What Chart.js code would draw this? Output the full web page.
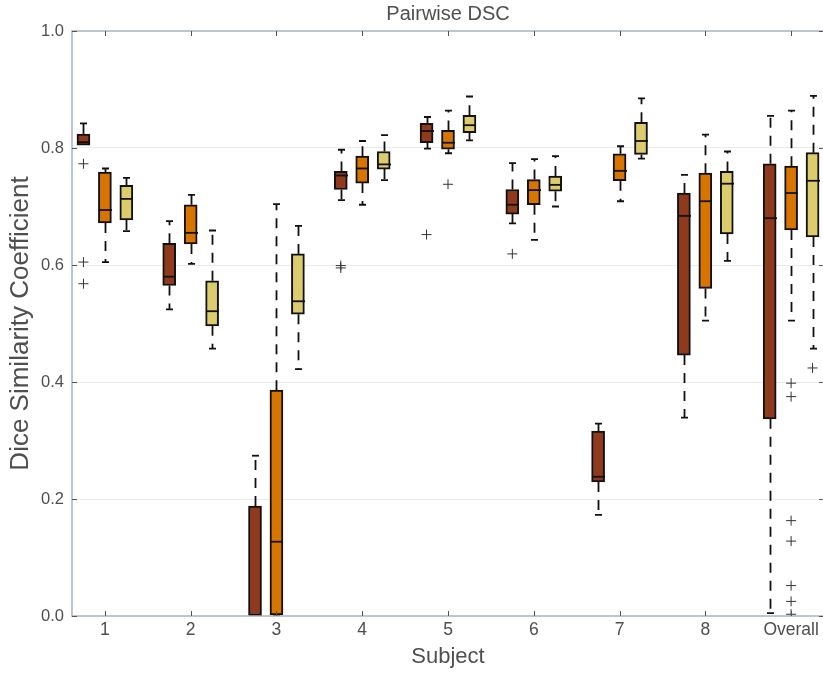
<!DOCTYPE html>
<html>
<head>
<meta charset="utf-8">
<script src="https://cdn.jsdelivr.net/npm/chart.js@4.4.1/dist/chart.umd.min.js"></script>
<style>
  html, body { margin: 0; padding: 0; background: #fff; overflow: hidden; }
  canvas { display: block; }
</style>
</head>
<body>
<canvas id="dsc" width="830" height="673"></canvas>
<script>
// subjects on the x axis
const subjects = ['1', '2', '3', '4', '5', '6', '7', '8', 'Overall'];
const yTicks = [0, 0.2, 0.4, 0.6, 0.8, 1.0];

// five number summaries per subject: [low whisker, q1, median, q3, high whisker]
const boxDark = [
  [0.805, 0.805, 0.810, 0.824, 0.842],
  [0.524, 0.565, 0.580, 0.637, 0.675],
  [0.000, 0.000, 0.000, 0.188, 0.274],
  [0.711, 0.729, 0.753, 0.760, 0.797],
  [0.799, 0.809, 0.829, 0.842, 0.853],
  [0.671, 0.687, 0.703, 0.729, 0.774],
  [0.173, 0.229, 0.238, 0.316, 0.329],
  [0.339, 0.446, 0.684, 0.723, 0.754],
  [0.005, 0.337, 0.680, 0.773, 0.855]
];
const boxOrange = [
  [0.605, 0.672, 0.694, 0.759, 0.765],
  [0.602, 0.636, 0.655, 0.703, 0.720],
  [0.000, 0.002, 0.127, 0.386, 0.704],
  [0.703, 0.740, 0.765, 0.786, 0.812],
  [0.791, 0.798, 0.809, 0.830, 0.864],
  [0.643, 0.703, 0.728, 0.746, 0.781],
  [0.709, 0.744, 0.761, 0.790, 0.803],
  [0.505, 0.560, 0.709, 0.757, 0.823],
  [0.505, 0.660, 0.723, 0.769, 0.864]
];
const boxYellow = [
  [0.658, 0.677, 0.713, 0.736, 0.749],
  [0.457, 0.496, 0.521, 0.573, 0.659],
  [0.422, 0.516, 0.538, 0.619, 0.667],
  [0.745, 0.764, 0.772, 0.794, 0.822],
  [0.813, 0.826, 0.839, 0.856, 0.888],
  [0.700, 0.726, 0.737, 0.752, 0.786],
  [0.782, 0.789, 0.812, 0.844, 0.885],
  [0.607, 0.653, 0.739, 0.760, 0.794],
  [0.457, 0.648, 0.744, 0.792, 0.889]
];

// outliers: [subject index, value]
const outDark = [[0, 0.773], [0, 0.605], [0, 0.568], [3, 0.599], [3, 0.595], [4, 0.652], [5, 0.619]];
const outOrange = [[4, 0.738], [8, 0.398], [8, 0.375], [8, 0.163], [8, 0.128], [8, 0.052], [8, 0.025], [8, 0.003]];
const outYellow = [[8, 0.424]];

const series = [
  { boxes: boxDark, outliers: outDark, color: '#8f3a1c', shift: -0.25 },
  { boxes: boxOrange, outliers: outOrange, color: '#d87500', shift: 0 },
  { boxes: boxYellow, outliers: outYellow, color: '#dccc6e', shift: 0.25 }
];

const FONT = "'Liberation Sans', Arial, sans-serif";
const FRAME = '#aab3c0';
const TEXT = '#4f4f4f';

let datasets = [];
series.forEach(function (s) {
  datasets.push({
    type: 'bar',
    data: s.boxes.map(function (b, i) { return { x: i + 1 + s.shift, y: [b[1], b[3]] }; }),
    backgroundColor: s.color,
    borderColor: '#111',
    borderWidth: 2,
    borderSkipped: false,
    barThickness: 13,
    grouped: false,
    order: 2
  });
});
series.forEach(function (s) {
  datasets.push({
    type: 'scatter',
    data: s.outliers.map(function (o) { return { x: o[0] + 1 + s.shift, y: o[1] }; }),
    pointStyle: 'cross',
    radius: 5,
    borderWidth: 1,
    borderColor: '#333',
    backgroundColor: '#333',
    order: 1
  });
});

// whiskers, caps and medians, placed through the chart scales
const boxExtras = {
  id: 'boxExtras',
  afterDatasetsDraw(chart) {
    const ctx = chart.ctx;
    const xs = chart.scales.x, ys = chart.scales.y;
    const area = chart.chartArea;
    ctx.save();
    ctx.beginPath();
    ctx.rect(area.left, area.top, area.right - area.left, area.bottom - area.top);
    ctx.clip();
    ctx.strokeStyle = '#111';
    series.forEach(function (s) {
      s.boxes.forEach(function (b, i) {
        const x = Math.round(xs.getPixelForValue(i + 1 + s.shift)) + 0.5;
        const yLo = ys.getPixelForValue(b[0]);
        const yQ1 = ys.getPixelForValue(b[1]);
        const yMed = ys.getPixelForValue(b[2]);
        const yQ3 = ys.getPixelForValue(b[3]);
        const yHi = ys.getPixelForValue(b[4]);

        ctx.lineWidth = 1.8;
        ctx.setLineDash([10, 8]);
        ctx.beginPath();
        ctx.moveTo(x, yQ3); ctx.lineTo(x, yHi);
        ctx.moveTo(x, yQ1); ctx.lineTo(x, yLo);
        ctx.stroke();

        ctx.setLineDash([]);
        ctx.beginPath();
        if (b[4] > b[3]) { ctx.moveTo(x - 3.5, yHi); ctx.lineTo(x + 3.5, yHi); }
        if (b[0] < b[1]) { ctx.moveTo(x - 3.5, yLo); ctx.lineTo(x + 3.5, yLo); }
        ctx.stroke();

        ctx.lineWidth = 1.8;
        ctx.beginPath();
        ctx.moveTo(x - 6.5, yMed); ctx.lineTo(x + 6.5, yMed);
        ctx.stroke();
      });
    });
    ctx.restore();
  }
};

// frame with inward tick marks on all four sides
const frame = {
  id: 'frame',
  afterDraw(chart) {
    const ctx = chart.ctx;
    const a = chart.chartArea;
    const xs = chart.scales.x, ys = chart.scales.y;
    ctx.save();
    ctx.strokeStyle = FRAME;
    ctx.lineWidth = 1.5;
    ctx.strokeRect(a.left, a.top, a.right - a.left, a.bottom - a.top);
    ctx.strokeStyle = '#555';
    ctx.lineWidth = 1;
    ctx.beginPath();
    subjects.forEach(function (s, i) {
      const x = Math.round(xs.getPixelForValue(i + 1)) + 0.5;
      ctx.moveTo(x, a.bottom); ctx.lineTo(x, a.bottom - 5);
      ctx.moveTo(x, a.top); ctx.lineTo(x, a.top + 5);
    });
    yTicks.forEach(function (v) {
      const y = Math.round(ys.getPixelForValue(v)) + 0.5;
      ctx.moveTo(a.left, y); ctx.lineTo(a.left + 5, y);
      ctx.moveTo(a.right, y); ctx.lineTo(a.right - 5, y);
    });
    ctx.stroke();
    ctx.restore();
  }
};

new Chart(document.getElementById('dsc'), {
  type: 'bar',
  data: { datasets: datasets },
  options: {
    responsive: false,
    animation: false,
    devicePixelRatio: 1,
    layout: { padding: { left: 0, right: 4, top: 0, bottom: 0 } },
    plugins: {
      legend: { display: false },
      tooltip: { enabled: false },
      title: {
        display: true,
        fullSize: false,
        text: 'Pairwise DSC',
        color: TEXT,
        font: { family: FONT, size: 20, weight: 'normal' },
        padding: { top: 2, bottom: 5 }
      }
    },
    scales: {
      x: {
        type: 'linear',
        min: 0.6165,
        max: 9.3835,
        offset: false,
        afterBuildTicks: function (scale) {
          scale.ticks = subjects.map(function (s, i) { return { value: i + 1 }; });
        },
        afterFit: function (scale) { scale.height = 57; },
        ticks: {
          callback: function (v) { return subjects[v - 1]; },
          color: TEXT,
          padding: 4,
          maxRotation: 0,
          autoSkip: false,
          font: { family: FONT, size: 17.5 }
        },
        grid: { display: false, drawTicks: false },
        border: { display: false },
        title: {
          display: true,
          text: 'Subject',
          color: TEXT,
          font: { family: FONT, size: 22 },
          padding: { top: 0, bottom: 3 }
        }
      },
      y: {
        min: 0,
        max: 1,
        afterBuildTicks: function (scale) {
          scale.ticks = yTicks.map(function (v) { return { value: v }; });
        },
        afterFit: function (scale) { scale.width = 72; },
        ticks: {
          callback: function (v) { return v.toFixed(1); },
          color: TEXT,
          padding: 8,
          font: { family: FONT, size: 16.5 }
        },
        grid: {
          drawTicks: false,
          color: function (c) {
            const v = c.tick ? c.tick.value : 0;
            return (v > 0.01 && v < 0.99) ? '#ebebeb' : 'rgba(0,0,0,0)';
          },
          lineWidth: 1
        },
        border: { display: false },
        title: {
          display: true,
          text: 'Dice Similarity Coefficient',
          color: TEXT,
          font: { family: FONT, size: 26 },
          padding: { top: 5, bottom: 0 }
        }
      }
    }
  },
  plugins: [boxExtras, frame]
});
</script>
</body>
</html>
